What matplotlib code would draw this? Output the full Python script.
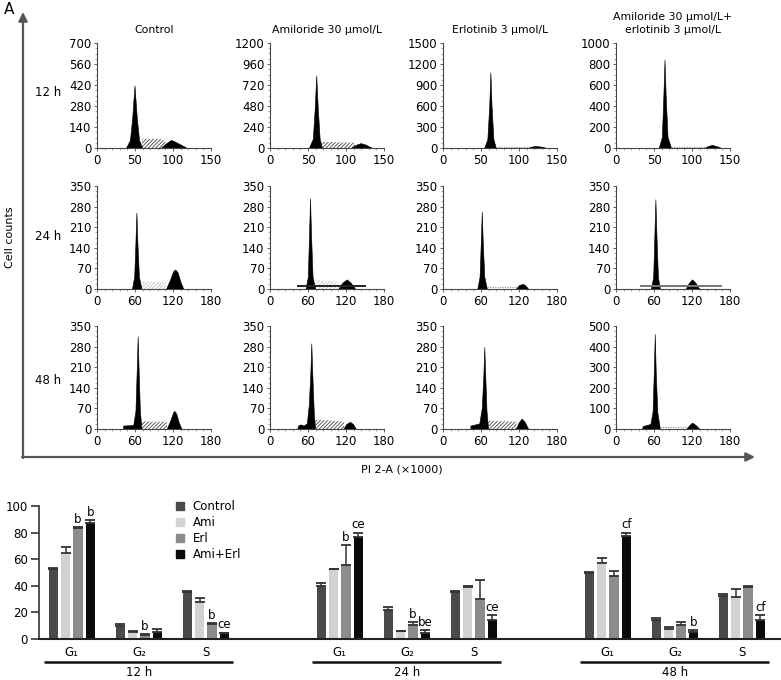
import numpy as np
import matplotlib
matplotlib.use("Agg")
import matplotlib.pyplot as plt
from matplotlib.patches import Patch
from matplotlib.ticker import MultipleLocator, AutoMinorLocator

plt.rcParams["font.family"] = ["DejaVu Sans"]
plt.rcParams["hatch.linewidth"] = 0.6

W, H = 781, 680

# ---- flow cytometry histograms (rows: 12 h, 24 h, 48 h; cols: treatments)
COLUMN_TITLES = ["Control", "Amiloride 30 µmol/L", "Erlotinib 3 µmol/L",
                 "Amiloride 30 µmol/L+\nerlotinib 3 µmol/L"]
ROW_LABELS = ["12 h", "24 h", "48 h"]
X_MAX = [150, 180, 180]
X_STEP = [50, 60, 60]
Y_MAX = [700, 1200, 1500, 1000, 350, 350, 350, 350, 350, 350, 350, 500]
Y_STEP = [140, 240, 300, 200, 70, 70, 70, 70, 70, 70, 70, 100]

G1_PEAK = [
    [(39, 0), (44, 50), (47, 200), (50, 415), (53, 200), (56, 50), (60, 0)],
    [(52, 0), (57, 100), (59.5, 450), (61.5, 824), (63.5, 450), (66, 100), (69, 0)],
    [(55, 0), (59, 120), (61.5, 600), (63, 1078), (64.5, 600), (67, 120), (70, 0)],
    [(57, 0), (61, 100), (63, 500), (64.5, 840), (66, 500), (68.5, 100), (73, 0)],
    [(56, 0), (59.5, 40), (61.5, 160), (63, 259), (64.5, 160), (67, 40), (71, 0)],
    [(57, 0), (60.5, 40), (62.5, 190), (64, 307), (65.5, 190), (68, 40), (72, 0)],
    [(55, 0), (58.5, 40), (60.5, 160), (62, 262), (63.5, 160), (66, 40), (70, 0)],
    [(56, 0), (59.5, 40), (61.5, 190), (63, 304), (64.5, 190), (67, 40), (70, 0)],
    [(42, 0), (42, 10), (58, 12), (61.5, 60), (63.5, 200), (65, 314), (66.5, 200),
     (68.5, 60), (71, 0)],
    [(44, 0), (45, 10), (49, 14), (54, 10), (59, 18), (62, 80), (64.5, 190), (66, 290),
     (67.5, 190), (70, 50), (72, 0)],
    [(44, 0), (44, 10), (58, 17), (62, 70), (64.5, 180), (66, 278), (67.5, 180),
     (69.5, 60), (72, 0)],
    [(42, 0), (43, 12), (55, 22), (58.5, 80), (60.5, 280), (62, 459), (63.5, 280),
     (66, 80), (70, 0)],
]

G2_PEAK = [
    [(85, 0), (92, 30), (98, 51), (105, 35), (118, 0)],
    [(108, 0), (115, 35), (120, 50), (126, 35), (134, 0)],
    [(113, 0), (118, 15), (123, 22), (128, 15), (135, 0)],
    [(118, 0), (122, 15), (127, 25), (132, 15), (138, 0)],
    [(110, 0), (116, 30), (121, 58), (124, 65), (128, 55), (133, 20), (137, 0)],
    [(109, 0), (115, 20), (122, 31), (128, 20), (135, 0)],
    [(116, 0), (121, 12), (127, 16), (131, 10), (135, 0)],
    [(111, 0), (116, 20), (121, 31), (126, 20), (132, 0)],
    [(111, 0), (116, 25), (121, 55), (123, 60), (126, 50), (130, 20), (134, 0)],
    [(117, 0), (121, 15), (127, 23), (132, 15), (136, 0)],
    [(116, 0), (120, 20), (125, 34), (130, 22), (135, 0)],
    [(112, 0), (117, 18), (121, 29), (126, 18), (132, 0)],
]

S_PHASE = [
    [(59, 0), (59, 62), (83, 60), (90, 45), (90, 0)],
    [(69, 0), (69, 70), (112, 60), (112, 0)],
    [(70, 0), (70, 12), (115, 12), (115, 0)],
    [(73, 0), (73, 10), (118, 10), (118, 0)],
    [(71, 0), (71, 25), (108, 25), (110, 0)],
    [(72, 0), (72, 32), (108, 25), (109, 0)],
    [(70, 0), (70, 8), (116, 8), (116, 0)],
    [(70, 0), (70, 10), (111, 10), (111, 0)],
    [(71, 0), (71, 26), (110, 24), (111, 0)],
    [(72, 0), (72, 32), (117, 25), (117, 0)],
    [(72, 0), (72, 28), (116, 25), (116, 0)],
    [(70, 0), (70, 12), (112, 12), (112, 0)],
]
S_STYLE = ["dense", "dense", "dots", "dots", "light", "light", "dots", "dots",
           "dense", "dense", "dense", "dots"]
# (x start, x end, height, colour) of the debris baseline drawn in some panels
BASELINE = [None, None, None, None, None, (42, 151, 11, "#222222"), None,
            (38, 168, 10, "#777777"), None, None, None, None]

# ---- bar chart
PHASES = ["G₁", "G₂", "S"]
TIMES = ["12 h", "24 h", "48 h"]
GROUPS = ["Control", "Ami", "Erl", "Ami+Erl"]
BAR_COLORS = ["#4a4a4a", "#d2d2d2", "#8c8c8c", "#0a0a0a"]
# columns: 12 h G1, G2, S | 24 h G1, G2, S | 48 h G1, G2, S
CONTROL = [53, 9.5, 35.5, 40, 21.5, 35.5, 50, 14, 32]
CONTROL_ERR = [0.5, 2, 0.5, 2, 2.5, 0.3, 0.3, 2, 1.8]
AMI = [65, 5, 27.5, 52.5, 5.7, 39, 57, 7.7, 31.5]
AMI_ERR = [4, 1, 3, 0.5, 0.3, 0.5, 3.7, 1.5, 6]
ERL = [83.5, 3.2, 11.5, 55.5, 10.2, 30, 47, 10.2, 39]
ERL_ERR = [0.5, 0.5, 0.5, 15, 2.5, 14.5, 4.3, 2.3, 0.8]
AMI_ERL = [87, 5.2, 4.2, 77, 4.7, 14, 77.5, 5, 14]
AMI_ERL_ERR = [2.2, 2, 0.5, 3, 1.8, 3.7, 2.5, 1.5, 3.7]
ERL_SIG = ["b", "b", "b", "b", "b", "", "", "", ""]
AMI_ERL_SIG = ["b", "", "ce", "ce", "be", "ce", "cf", "b", "cf"]


def box(l, t, r, b):
    return [l / W, 1 - b / H, (r - l) / W, (b - t) / H]


fig = plt.figure(figsize=(W / 100, H / 100), dpi=100)

# overlay for the big L-shaped axes and free labels (pixel coords)
ov = fig.add_axes([0, 0, 1, 1], zorder=0)
ov.set_xlim(0, W)
ov.set_ylim(H, 0)
ov.axis("off")
arrow = dict(arrowstyle="-|>", lw=1.6, color="#555555", mutation_scale=13,
             shrinkA=0, shrinkB=0)
ov.annotate("", xy=(23, 12), xytext=(23, 458), arrowprops=arrow)
ov.annotate("", xy=(755, 457), xytext=(22, 457), arrowprops=arrow)
ov.text(4, 10, "A", fontsize=11, va="center", ha="left")
ov.text(10, 237, "Cell counts", fontsize=8, rotation=90, va="center", ha="center")
ov.text(402, 470, "PI 2-A (×1000)", fontsize=8, va="center", ha="center")
for lab, y in zip(ROW_LABELS, [92, 237, 381]):
    ov.text(48, y, lab, fontsize=8.5, va="center", ha="center")

col_px = [97, 270, 443, 616]
row_px = [(43, 148), (186, 289), (326, 429)]
for r in range(3):
    for c in range(4):
        k = r * 4 + c
        t, b = row_px[r]
        ax = fig.add_axes(box(col_px[c], t, col_px[c] + 114, b), zorder=1)
        ax.patch.set_alpha(0)
        ax.set_xlim(0, X_MAX[r])
        ax.set_ylim(0, Y_MAX[k])
        ax.xaxis.set_major_locator(MultipleLocator(X_STEP[r]))
        ax.yaxis.set_major_locator(MultipleLocator(Y_STEP[k]))
        ax.yaxis.set_minor_locator(AutoMinorLocator(4))
        ax.xaxis.set_minor_locator(AutoMinorLocator(5))
        for s in ["top", "right"]:
            ax.spines[s].set_visible(False)
        for s in ["left", "bottom"]:
            ax.spines[s].set_color("#444444")
            ax.spines[s].set_linewidth(0.8)
        ax.tick_params(which="major", length=2.5, width=0.6, labelsize=8.5, pad=1.5,
                       color="#444444")
        ax.tick_params(which="minor", length=1.2, width=0.4, color="#666666")

        sx, sy = zip(*S_PHASE[k])
        if S_STYLE[k] == "dense":
            ax.fill(sx, sy, facecolor="white", edgecolor="#444444",
                    hatch="/////////", lw=0)
        elif S_STYLE[k] == "light":
            ax.fill(sx, sy, facecolor="white", edgecolor="#c4c4c4",
                    hatch="/////////", lw=0)
        else:
            ax.plot(sx[1:-1], sy[1:-1], color="#999999", lw=0.9, ls=(0, (1, 1)))
        if BASELINE[k] is not None:
            x0, x1, yb, bc = BASELINE[k]
            ax.plot([x0, x1], [yb, yb], color=bc, lw=1.4, solid_capstyle="butt")
        gx, gy = zip(*G1_PEAK[k])
        ax.fill(gx, gy, color="black", lw=0.4)
        hx, hy = zip(*G2_PEAK[k])
        ax.fill(hx, hy, color="black", lw=0.4)
        if r == 0:
            ax.set_title(COLUMN_TITLES[c], fontsize=7.8, pad=7, linespacing=1.35)

# ---- bar chart
bx = fig.add_axes(box(39, 506, 780, 639), zorder=1)
bx.patch.set_alpha(0)
pos = np.array([0, 1, 2, 4, 5, 6, 8, 9, 10], dtype=float)
step, width = 0.184, 0.142
values = [CONTROL, AMI, ERL, AMI_ERL]
errors = [CONTROL_ERR, AMI_ERR, ERL_ERR, AMI_ERL_ERR]
sigs = [None, None, ERL_SIG, AMI_ERL_SIG]
for j in range(4):
    x = pos + (j - 1.5) * step
    v = np.array(values[j])
    e = np.array(errors[j])
    bx.bar(x, v, width=width, color=BAR_COLORS[j], label=GROUPS[j], zorder=2)
    bx.errorbar(x, v, yerr=[np.zeros_like(e), e], fmt="none", ecolor="#333333",
                elinewidth=1.1, capsize=3.4, capthick=1.3, zorder=3)
    if sigs[j] is not None:
        for xi, top, s in zip(x, v + e, sigs[j]):
            if s:
                bx.text(xi, top + 1.0, s, ha="center", va="bottom", fontsize=8.5)

bx.set_xlim(-0.49, 10.57)
bx.set_ylim(0, 100)
bx.set_yticks([0, 20, 40, 60, 80, 100])
bx.set_xticks([])
for s in ["top", "right"]:
    bx.spines[s].set_visible(False)
bx.spines["left"].set_linewidth(1.2)
bx.spines["left"].set_color("#333333")
bx.spines["bottom"].set_linewidth(1.5)
bx.spines["bottom"].set_color("#222222")
bx.tick_params(axis="y", length=6, width=1.2, labelsize=8.5, pad=2, color="#333333")

for i, p in enumerate(pos):
    bx.text(p, -10.5, PHASES[i % 3], ha="center", va="center", fontsize=8.5,
            clip_on=False)
for i, tlab in enumerate(TIMES):
    c = pos[i * 3 + 1]
    bx.plot([c - 1.42, c + 1.4], [-17.3, -17.3], color="#111111", lw=1.8,
            clip_on=False, solid_capstyle="butt")
    bx.text(c, -25.5, tlab, ha="center", va="center", fontsize=8.5, clip_on=False)

handles = [Patch(color=col, label=g) for col, g in zip(BAR_COLORS, GROUPS)]
fig.legend(handles=handles, loc="upper left", bbox_to_anchor=(176 / W, 1 - 500 / H),
           bbox_transform=fig.transFigure, frameon=False, fontsize=8.5,
           handlelength=0.7, handleheight=0.7, handletextpad=0.7,
           labelspacing=0.25, borderpad=0, borderaxespad=0)

fig.savefig("out.png", dpi=100)
